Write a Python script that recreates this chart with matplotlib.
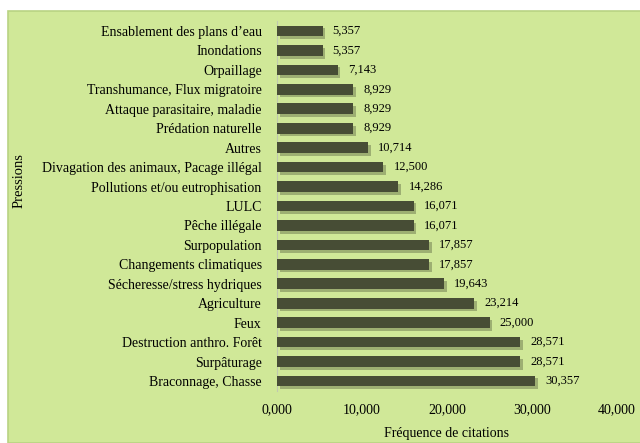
import matplotlib
matplotlib.use("Agg")
import matplotlib.pyplot as plt
from matplotlib.patches import Rectangle
import matplotlib.patheffects as pe

pressions = [
    "Ensablement des plans d’eau", "Inondations", "Orpaillage",
    "Transhumance, Flux migratoire", "Attaque parasitaire, maladie",
    "Prédation naturelle", "Autres", "Divagation des animaux, Pacage illégal",
    "Pollutions et/ou eutrophisation", "LULC", "Pêche illégale",
    "Surpopulation", "Changements climatiques", "Sécheresse/stress hydriques",
    "Agriculture", "Feux", "Destruction anthro. Forêt", "Surpâturage",
    "Braconnage, Chasse",
]
frequences = [5.357, 5.357, 7.143, 8.929, 8.929, 8.929, 10.714, 12.500,
              14.286, 16.071, 16.071, 17.857, 17.857, 19.643, 23.214,
              25.000, 28.571, 28.571, 30.357]
ticks = [0, 10, 20, 30, 40]

plt.rcParams['font.family'] = ['Liberation Serif', 'DejaVu Serif']

fond = "#d0e898"
fig = plt.figure(figsize=(6.4, 4.43), dpi=100, facecolor="white")
fig.patches.append(Rectangle((8 / 640, 0), 1, 1 - 11 / 443, transform=fig.transFigure,
                             facecolor=fond, edgecolor="#b9d383", linewidth=1.2, zorder=-10))

ax = fig.add_axes([277 / 640, 0.118, (617 - 277) / 640, 0.952 - 0.118])
ax.patch.set_alpha(0)

y = list(range(len(pressions)))
barres = ax.barh(y, frequences, height=0.55, color="#474d35", zorder=3)
for b in barres:
    b.set_path_effects([pe.SimplePatchShadow(offset=(2, -2), shadow_rgbFace="#5f6a45", alpha=0.45),
                        pe.Normal()])

for yi, v in zip(y, frequences):
    ax.text(v + 1.2, yi, f"{v:.3f}".replace(".", ","), va="center", ha="left", fontsize=9)

ax.set_ylim(len(pressions) - 0.5, -0.5)
ax.set_xlim(0, 40)
ax.set_yticks(y)
ax.set_yticklabels(pressions, fontsize=10)
ax.set_xticks(ticks)
ax.set_xticklabels([f"{t:.3f}".replace(".", ",") for t in ticks], fontsize=10)
ax.tick_params(length=0)
ax.tick_params(axis="y", pad=11)
ax.tick_params(axis="x", pad=9)

for s in ["top", "right", "bottom"]:
    ax.spines[s].set_visible(False)
ax.spines["left"].set_color("#c0c8b0")

ax.set_xlabel("Fréquence de citations", fontsize=10, labelpad=8)
fig.text(19 / 640, 1 - 181 / 443, "Pressions", rotation=90, ha="center", va="center", fontsize=10.5)

fig.savefig("out.png", dpi=100, facecolor="white")
